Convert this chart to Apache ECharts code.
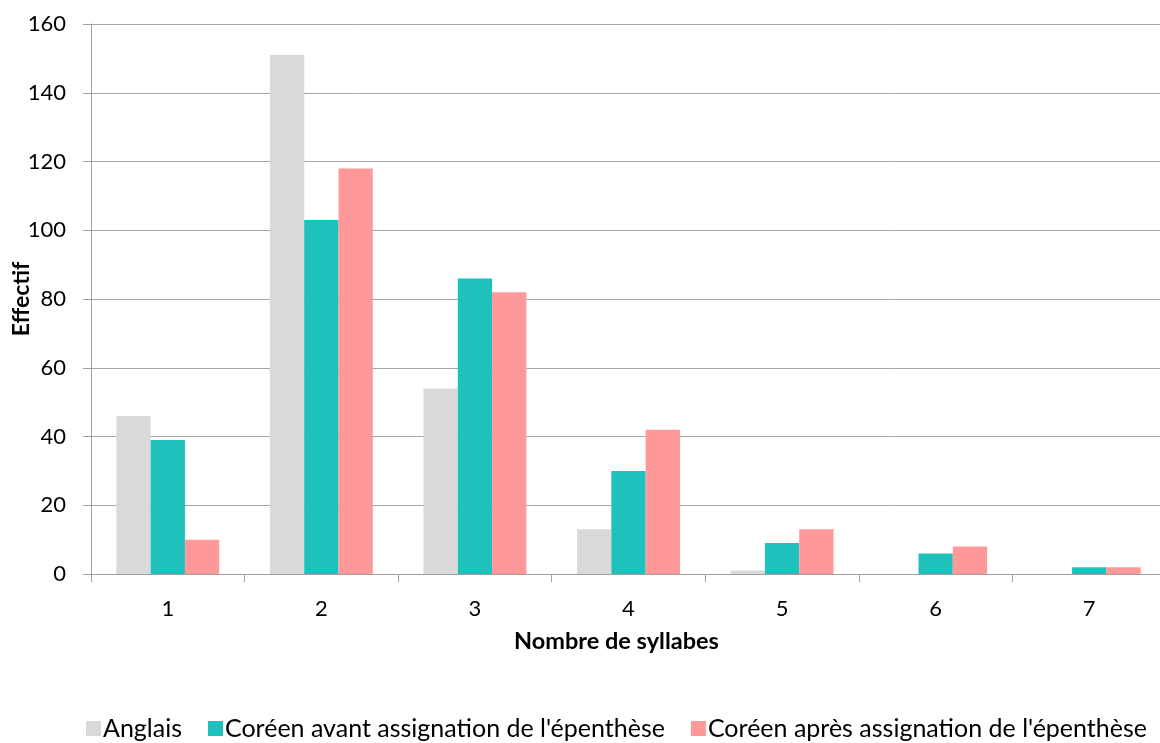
<!DOCTYPE html>
<html>
<head>
<meta charset="utf-8">
<script src="https://cdn.jsdelivr.net/npm/echarts@6/dist/echarts.min.js"></script>
<style>
html,body{margin:0;padding:0;background:#fff;}
#chart{width:1160px;height:743px;}
</style>
</head>
<body>
<div id="chart"></div>
<script>
var categories = ['1','2','3','4','5','6','7'];
var anglais = [46,151,54,13,1,0,0];
var coreenAvant = [39,103,86,30,9,6,2];
var coreenApres = [10,118,82,42,13,8,2];
var seriesNames = ['Anglais', "Coréen avant assignation de l'épenthèse", "Coréen après assignation de l'épenthèse"];
var yTicks = {min:0, max:160, interval:20};

var font = 'Lato, "Open Sans", sans-serif';
var chart = echarts.init(document.getElementById('chart'), null, {renderer:'canvas'});
chart.setOption({
  animation:false,
  textStyle:{fontFamily:font},
  color:['#d9d9d9','#1fc1bd','#ff9999'],
  grid:{left:91, top:24, bottom:169, right:-6, containLabel:false, outerBoundsMode:'none'},
  legend:{
    top:711, left:81,
    itemWidth:15, itemHeight:15, itemGap:26,
    icon:'rect',
    textStyle:{fontSize:25, color:'#000', fontFamily:font, padding:[0,0,0,-3]},
    data:seriesNames
  },
  xAxis:{
    type:'category', data:categories,
    boundaryGap:true,
    name:'Nombre de syllabes', nameLocation:'middle', nameGap:55,
    nameTextStyle:{fontSize:23.5, fontWeight:'bold', color:'#000', fontFamily:font, padding:[0,24,0,0]},
    axisLine:{lineStyle:{color:'#a0a0a0', width:1}},
    axisTick:{show:true, length:8, lineStyle:{color:'#a0a0a0'}},
    axisLabel:{fontSize:22, color:'#000', margin:24, fontFamily:font}
  },
  yAxis:{
    type:'value', min:yTicks.min, max:yTicks.max, interval:yTicks.interval,
    name:'Effectif', nameLocation:'middle', nameGap:58, nameMoveOverlap:false,
    nameTextStyle:{fontSize:23, fontWeight:'bold', color:'#000', fontFamily:font},
    axisLine:{show:true, lineStyle:{color:'#a0a0a0', width:1}},
    axisTick:{show:true, length:8, lineStyle:{color:'#a0a0a0'}},
    axisLabel:{fontSize:22, color:'#000', margin:25, fontFamily:font},
    splitLine:{lineStyle:{color:'#a6a6a6', width:1}}
  },
  series:[
    {name:seriesNames[0], type:'bar', data:anglais, barGap:'0%', barCategoryGap:'33%'},
    {name:seriesNames[1], type:'bar', data:coreenAvant, barGap:'0%', barCategoryGap:'33%'},
    {name:seriesNames[2], type:'bar', data:coreenApres, barGap:'0%', barCategoryGap:'33%'}
  ]
});
</script>
</body>
</html>
